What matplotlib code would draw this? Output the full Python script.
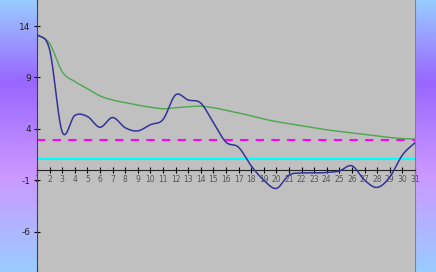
import numpy as np
import matplotlib
matplotlib.use("Agg")
import matplotlib.pyplot as plt
from matplotlib.colors import LinearSegmentedColormap

plt.rcParams["axes.unicode_minus"] = False

days = list(range(1, 32))
series_blue = [13.2, 11.7, 3.7, 5.3, 5.2, 4.15, 5.1, 4.1, 3.8, 4.4,
               4.9, 7.3, 6.8, 6.5, 4.6, 2.7, 2.2, 0.4, -1.0, -1.8,
               -0.5, -0.3, -0.3, -0.25, -0.1, 0.4, -1.0, -1.7, -0.7, 1.45,
               2.65]
series_green = [13.2, 12.3, 9.55, 8.6, 7.9, 7.2, 6.8, 6.55, 6.3, 6.1,
                5.95, 6.05, 6.15, 6.2, 6.05, 5.8, 5.55, 5.25, 4.95, 4.7,
                4.5, 4.3, 4.1, 3.9, 3.75, 3.6, 3.45, 3.3, 3.15, 3.05,
                3.0]
level_magenta = 2.9
level_cyan = 1.1
ytick_values = [-6, -1, 4, 9, 14]


# smooth line like a spreadsheet "smoothed line" (Catmull-Rom)
def smooth(x, y, steps=20):
    x = np.asarray(x, float)
    y = np.asarray(y, float)
    px = np.concatenate([[2 * x[0] - x[1]], x, [2 * x[-1] - x[-2]]])
    py = np.concatenate([[2 * y[0] - y[1]], y, [2 * y[-1] - y[-2]]])
    xs, ys = [], []
    t = np.linspace(0, 1, steps, endpoint=False)
    for i in range(1, len(px) - 2):
        for p, out in ((px, xs), (py, ys)):
            p0, p1, p2, p3 = p[i - 1], p[i], p[i + 1], p[i + 2]
            out.extend(0.5 * (2 * p1 + (-p0 + p2) * t
                              + (2 * p0 - 5 * p1 + 4 * p2 - p3) * t ** 2
                              + (-p0 + 3 * p1 - 3 * p2 + p3) * t ** 3))
    xs.append(x[-1])
    ys.append(y[-1])
    return np.array(xs), np.array(ys)


fig = plt.figure(figsize=(4.36, 2.72), dpi=100)

# gradient background
bg = fig.add_axes([0, 0, 1, 1])
cmap = LinearSegmentedColormap.from_list(
    "bg", [(0, "#99ccff"), (0.3, "#9966ff"), (0.65, "#cc99ff"), (1, "#99ccff")])
grad = np.linspace(0, 1, 256).reshape(-1, 1)
bg.imshow(grad, aspect="auto", cmap=cmap, extent=[0, 1, 1, 0])
bg.set_axis_off()

ax = fig.add_axes([37 / 436, 0, 378 / 436, 1])
ax.set_facecolor("#c0c0c0")
ax.set_xlim(1, 31)
ax.set_ylim(-9.93, 16.53)

ax.axhline(level_cyan, color="#00ffff", lw=1.5, zorder=2)
ax.axhline(level_magenta, color="#ff00ff", lw=1.5, dashes=(4, 3.5), zorder=2)

gx, gy = smooth(days, series_green)
ax.plot(gx, gy, color="#4ca64c", lw=1.0, zorder=3)
bx, by = smooth(days, series_blue)
ax.plot(bx, by, color="#333399", lw=1.1, zorder=4)

ax.spines["bottom"].set_position(("data", 0))
ax.spines["bottom"].set_color("#222222")
ax.spines["left"].set_color("#404040")
ax.spines["right"].set_color("#808080")
ax.spines["top"].set_visible(False)

ax.set_xticks(days)
ax.set_xticklabels([str(d) for d in days])
ax.tick_params(axis="x", direction="inout", length=5, width=0.8,
               labelsize=5.5, labelcolor="#555555", pad=1)
ax.set_yticks(ytick_values)
ax.tick_params(axis="y", direction="inout", length=5, width=0.8,
               labelsize=6.5, labelcolor="#222222", pad=2)

fig.savefig("out.png", dpi=100)
